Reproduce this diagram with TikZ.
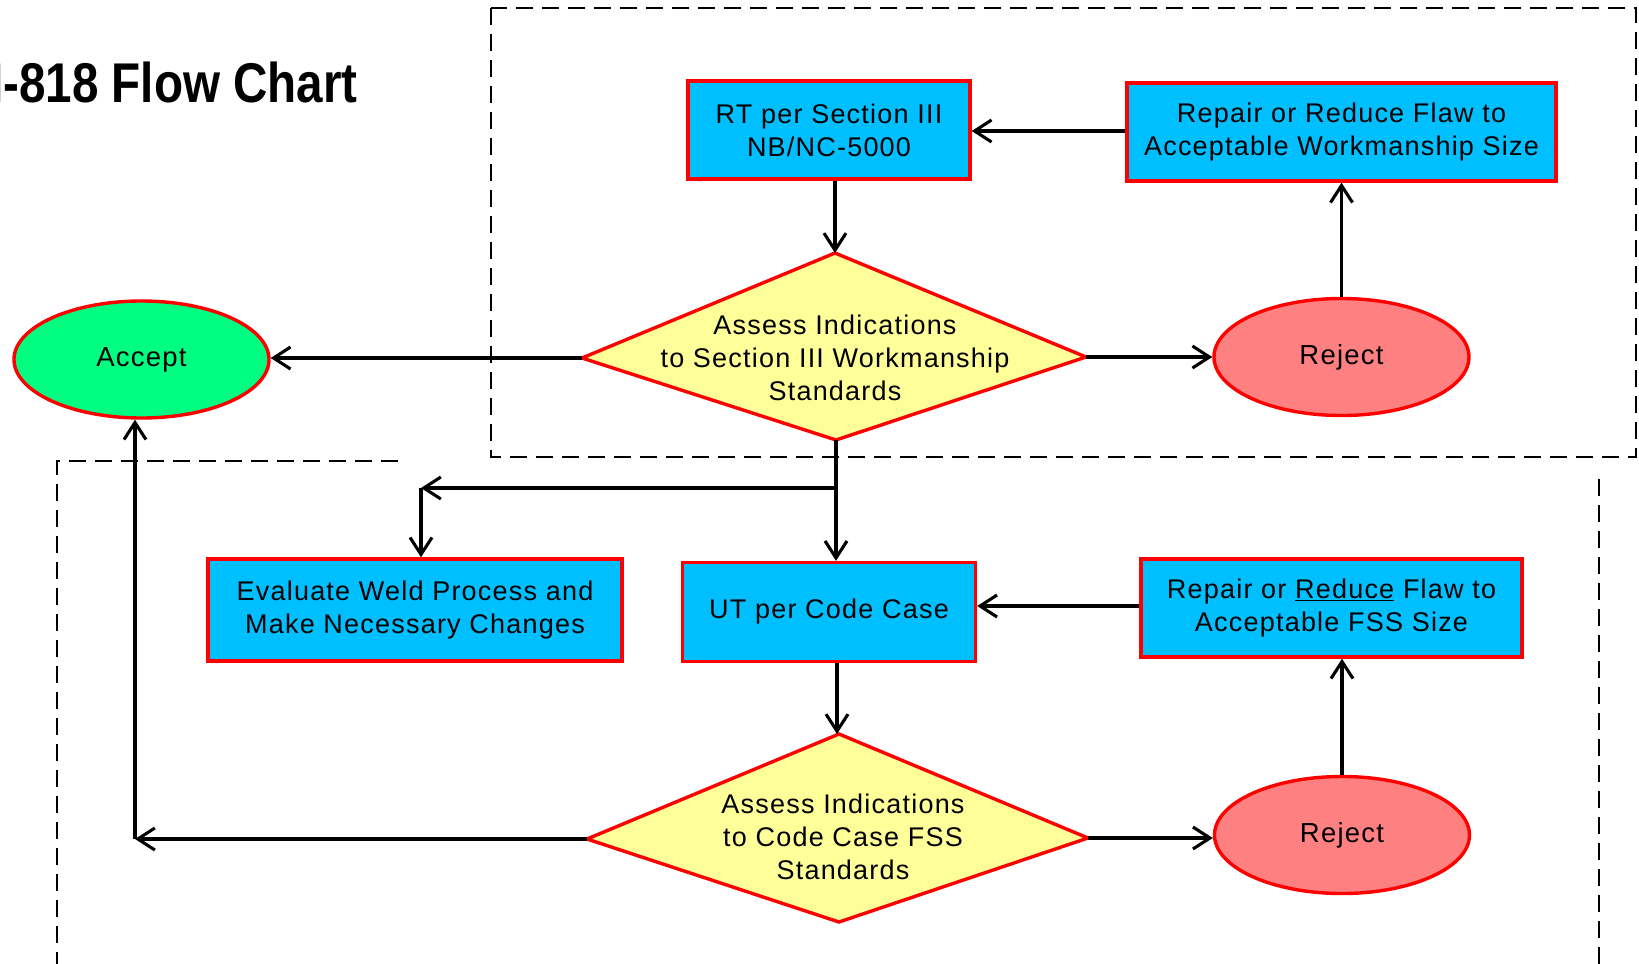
\documentclass[tikz,border=0pt]{standalone}
\usepackage{fontspec}
\usepackage{graphicx}
\setmainfont{Liberation Sans}
\newfontfamily\boxfont[LetterSpace=4.5]{Liberation Sans}
\usetikzlibrary{arrows.meta,shapes.geometric}
\definecolor{boxblue}{RGB}{0,191,255}
\definecolor{dyellow}{RGB}{255,255,153}
\definecolor{acceptgreen}{RGB}{0,255,128}
\definecolor{rejectred}{RGB}{255,128,128}
\definecolor{borderred}{RGB}{255,0,0}
\begin{document}
\begin{tikzpicture}[x=1pt,y=-1pt,
  procbox/.style={rectangle, draw=borderred, line width=3.4pt, fill=boxblue, inner sep=0pt, align=center, font=\boxfont\fontsize{27}{33}\selectfont},
  decision/.style={draw=borderred, line width=3.4pt, fill=dyellow, line join=miter},
  dtext/.style={align=center, inner sep=0pt, font=\boxfont\fontsize{27}{33}\selectfont},
  term/.style={ellipse, draw=borderred, line width=3.4pt, inner sep=0pt, minimum width=255pt, minimum height=117pt, font=\boxfont\fontsize{27.5}{33}\selectfont},
  conn/.style={line width=3.1pt, -{Straight Barb[length=17pt,width=22pt]}},
  region/.style={line width=2.8pt, dash pattern=on 17pt off 9pt},
]
\useasboundingbox (0,0) rectangle (1639,964);
\fill[white] (0,0) rectangle (1639,964);

% dashed regions
\draw[region] (491,8) rectangle (1636,457);
\draw[region] (398,461) -- (57,461) -- (57,964);
\draw[region] (1599,479) -- (1599,964);

% title
\node[anchor=base east, inner sep=0pt, font=\fontsize{56}{60}\selectfont\bfseries] (title) at (358,102) {\scalebox{0.85}[1]{N-818 Flow Chart}};

% top section
\node[procbox, minimum width=282pt, minimum height=98pt] (rt) at (829,130) {RT per Section III\\NB/NC-5000};
\node[procbox, minimum width=429pt, minimum height=98pt] (rep1) at (1341.5,132) {Repair or Reduce Flaw to\\Acceptable Workmanship Size};
\node[term, fill=acceptgreen] (acc) at (141.5,359.5) {Accept};
\node[term, fill=rejectred] (rej1) at (1341.5,357) {Reject};

\coordinate (d1n) at (835,253);
\coordinate (d1w) at (582,358);
\coordinate (d1e) at (1086,357);
\coordinate (d1s) at (836,440);
\draw[decision] (d1n) -- (d1e) -- (d1s) -- (d1w) -- cycle;
\node[dtext] (d1) at (835,358) {Assess Indications\\to Section III Workmanship\\Standards};

% bottom section
\node[procbox, minimum width=414pt, minimum height=102pt] (eval) at (415,610) {Evaluate Weld Process and\\Make Necessary Changes};
\node[procbox, minimum width=293pt, minimum height=99pt] (ut) at (829,612) {UT per Code Case};
\node[procbox, minimum width=381pt, minimum height=98pt] (rep2) at (1331.5,608) {Repair or \underline{Reduce} Flaw to\\Acceptable FSS Size};
\node[term, fill=rejectred] (rej2) at (1342,835) {Reject};

\coordinate (d2n) at (839,734);
\coordinate (d2w) at (587,839);
\coordinate (d2e) at (1088,838);
\coordinate (d2s) at (839,922);
\draw[decision] (d2n) -- (d2e) -- (d2s) -- (d2w) -- cycle;
\node[dtext] (d2) at (843,837) {Assess Indications\\to Code Case FSS\\Standards};

% connectors
\draw[conn] (rep1.west |- 0,131) -- (rt.east |- 0,131);
\draw[conn] (rt.south -| d1n) -- (d1n);
\draw[conn] (d1w) -- (d1w -| acc.east);
\draw[conn] (d1e) -- (d1e -| rej1.west);
\draw[conn] (rej1.north) -- (rej1.north |- rep1.south);

\coordinate (br1) at (836,488);
\coordinate (br2) at (421,488);
\draw[conn] (d1s) -- (d1s |- ut.north);
\draw[conn] (br1) -- (br2);
\draw[conn] (br2) -- (br2 |- eval.north);
\draw[conn] (rep2.west |- 0,606) -- (ut.east |- 0,606);
\draw[conn] (ut.south -| 837,0) -- (837,734);

\coordinate (bl) at (135,839);
\draw[conn] (d2w) -- (bl);
\draw[conn] (bl) -- (bl |- acc.south);
\draw[conn] (d2e) -- (d2e -| rej2.west);
\draw[conn] (rej2.north) -- (rej2.north |- rep2.south);
\end{tikzpicture}
\end{document}
